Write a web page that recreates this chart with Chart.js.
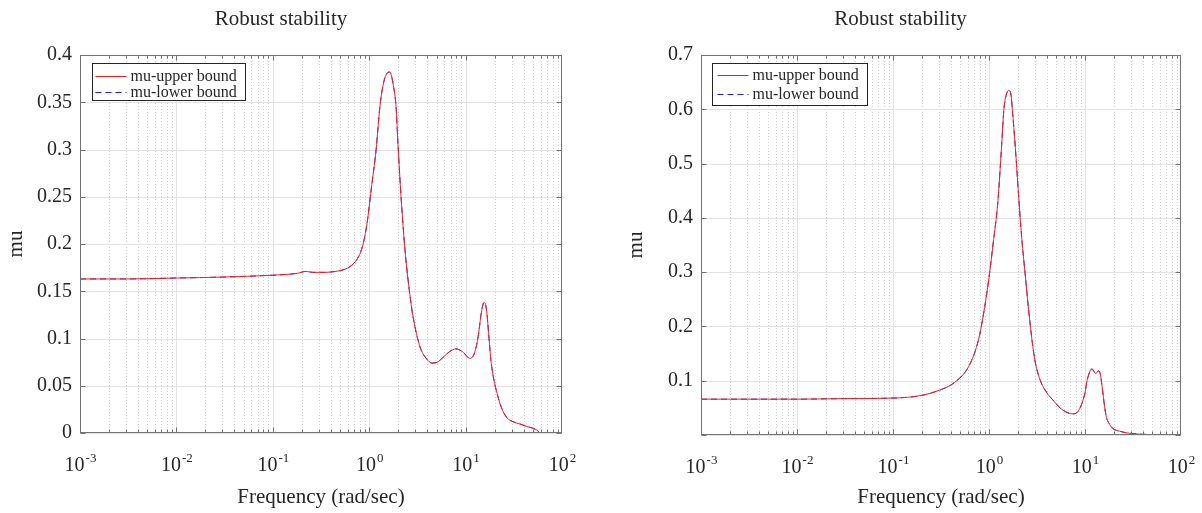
<!DOCTYPE html>
<html>
<head>
<meta charset="utf-8">
<script src="https://cdn.jsdelivr.net/npm/chart.js@4.4.1/dist/chart.umd.min.js"></script>
<style>
  html, body { margin: 0; padding: 0; background: #fff; }
  #wrap { position: relative; width: 1202px; height: 513px; }
  .panel { position: absolute; top: 0; width: 601px; height: 513px; }
</style>
</head>
<body>
<div id="wrap">
  <div class="panel" style="left:0"><canvas id="chartLeft" width="601" height="513"></canvas></div>
  <div class="panel" style="left:601px"><canvas id="chartRight" width="601" height="513"></canvas></div>
</div>
<script>
// ---- data (frequency in rad/sec, mu bounds) ----
const leftFreq = [0.001, 0.003, 0.01, 0.03, 0.1, 0.18, 0.22, 0.26, 0.35, 0.45, 0.55, 0.65, 0.75, 0.85, 0.95,
  1.05, 1.18, 1.29, 1.42, 1.52, 1.6, 1.68, 1.78, 1.9, 1.99, 2.14, 2.35, 2.6, 2.85, 3.37, 3.9, 4.48, 5.1, 5.83,
  6.8, 7.95, 9.3, 11.1, 12.4, 13.5, 14.6, 15.5, 16.1, 16.7, 17.5, 18.3, 19.6, 21.2, 23.5, 26.9, 31, 36.6, 43,
  50, 55, 57.7];
const leftUpper = [0.163, 0.163, 0.164, 0.165, 0.167, 0.169, 0.171, 0.170, 0.170, 0.171, 0.173, 0.177, 0.184,
  0.197, 0.222, 0.258, 0.300, 0.345, 0.372, 0.380, 0.382, 0.380, 0.368, 0.345, 0.305, 0.250, 0.194, 0.152,
  0.123, 0.091, 0.079, 0.074, 0.075, 0.080, 0.086, 0.089, 0.086, 0.079, 0.085, 0.102, 0.128, 0.138, 0.136,
  0.125, 0.100, 0.077, 0.057, 0.042, 0.027, 0.016, 0.012, 0.0095, 0.007, 0.005, 0.003, 0.001];
const leftLower = [0.163, 0.163, 0.164, 0.165, 0.167, 0.169, 0.171, 0.170, 0.170, 0.171, 0.173, 0.177, 0.184,
  0.197, 0.222, 0.258, 0.300, 0.345, 0.372, 0.380, 0.382, 0.380, 0.368, 0.345, 0.305, 0.250, 0.194, 0.152,
  0.123, 0.091, 0.079, 0.074, 0.075, 0.080, 0.086, 0.089, 0.086, 0.079, 0.085, 0.102, 0.128, 0.138, 0.136,
  0.125, 0.100, 0.077, 0.057, 0.042, 0.027, 0.016, 0.012, 0.0095, 0.007, 0.005, 0.003, 0.001];

const rightFreq = [0.001, 0.003, 0.01, 0.03, 0.1, 0.2, 0.31, 0.4, 0.475, 0.56, 0.63, 0.72, 0.8, 0.9, 1.0, 1.1,
  1.24, 1.35, 1.43, 1.52, 1.61, 1.70, 1.75, 1.88, 2.05, 2.2, 2.37, 2.66, 2.99, 3.4, 4.0, 4.6, 5.5, 6.6, 7.5,
  8.2, 9.0, 10.0, 10.5, 11.2, 11.8, 12.4, 13.0, 13.7, 14.3, 14.8, 15.8, 16.6, 18, 19.5, 23, 27, 37, 50, 60];
const rightUpper = [0.066, 0.066, 0.066, 0.067, 0.068, 0.073, 0.083, 0.092, 0.102, 0.115, 0.13, 0.155, 0.185,
  0.235, 0.29, 0.35, 0.432, 0.53, 0.60, 0.628, 0.635, 0.625, 0.60, 0.53, 0.432, 0.36, 0.30, 0.21, 0.14, 0.102,
  0.078, 0.065, 0.05, 0.041, 0.039, 0.041, 0.052, 0.078, 0.10, 0.116, 0.122, 0.117, 0.113, 0.118, 0.115, 0.10,
  0.06, 0.035, 0.02, 0.012, 0.007, 0.004, 0.0015, 0.0008, 0.0003];
const rightLower = [0.066, 0.066, 0.066, 0.067, 0.068, 0.073, 0.083, 0.092, 0.102, 0.115, 0.13, 0.155, 0.185,
  0.235, 0.29, 0.35, 0.432, 0.53, 0.60, 0.628, 0.635, 0.625, 0.60, 0.53, 0.432, 0.36, 0.30, 0.21, 0.14, 0.102,
  0.078, 0.065, 0.05, 0.041, 0.039, 0.041, 0.052, 0.078, 0.10, 0.116, 0.122, 0.117, 0.113, 0.118, 0.115, 0.10,
  0.06, 0.035, 0.02, 0.012, 0.007, 0.004, 0.0015, 0.0008, 0.0003];

const decadeExps = [-3, -2, -1, 0, 1, 2];
const seriesLabels = ['mu-upper bound', 'mu-lower bound'];
const titleText = 'Robust stability';
const xTitle = 'Frequency (rad/sec)';
const yTitle = 'mu';

const SERIF = '"Liberation Serif", "Times New Roman", serif';
const TEXT = '#262626';
const FRAME = '#737373';

function seg(ctx, x1, y1, x2, y2) {
  ctx.beginPath(); ctx.moveTo(x1, y1); ctx.lineTo(x2, y2); ctx.stroke();
}

// grid, inward ticks, box, decade labels and in-axes legend in the MATLAB look
const matlabAxes = {
  id: 'matlabAxes',
  beforeDatasetsDraw(chart) {
    const { ctx, chartArea: a, scales: { x, y } } = chart;
    ctx.save();
    ctx.lineWidth = 1;
    for (let d = -3; d < 2; d++) {
      for (let k = 1; k <= 9; k++) {
        const px = Math.round(x.getPixelForValue(k * Math.pow(10, d))) + 0.5;
        if (k === 1) { ctx.setLineDash([]); ctx.strokeStyle = '#e3e3e3'; }
        else { ctx.setLineDash([1, 2]); ctx.strokeStyle = '#d2d2d2'; }
        seg(ctx, px, a.top, px, a.bottom);
      }
    }
    ctx.setLineDash([]);
    ctx.strokeStyle = '#e3e3e3';
    y.ticks.forEach(t => {
      const py = Math.round(y.getPixelForValue(t.value)) + 0.5;
      seg(ctx, a.left, py, a.right, py);
    });
    ctx.restore();
  },
  afterDatasetsDraw(chart, args, opts) {
    const { ctx, chartArea: a, scales: { x, y } } = chart;
    const L = Math.round(a.left) + 0.5, R = Math.round(a.right) - 0.5;
    const T = Math.round(a.top) + 0.5, B = Math.round(a.bottom) - 0.5;
    ctx.save();
    ctx.lineWidth = 1;
    ctx.strokeStyle = FRAME;
    ctx.strokeRect(L, T, R - L, B - T);

    // x ticks on bottom and top
    for (let d = -3; d < 2; d++) {
      for (let k = 1; k <= 9; k++) {
        const px = Math.round(x.getPixelForValue(k * Math.pow(10, d))) + 0.5;
        const len = k === 1 ? 5 : 3;
        seg(ctx, px, B, px, B - len);
        seg(ctx, px, T, px, T + len);
      }
    }
    // y ticks on left and right
    y.ticks.forEach(t => {
      const py = Math.round(y.getPixelForValue(t.value)) + 0.5;
      seg(ctx, L, py, L + 5, py);
      seg(ctx, R, py, R - 5, py);
    });

    // decade labels 10^n
    ctx.fillStyle = TEXT;
    ctx.textBaseline = 'alphabetic';
    ctx.textAlign = 'left';
    decadeExps.forEach(e => {
      const px = x.getPixelForValue(Math.pow(10, e));
      const base = '10', sup = String(e);
      ctx.font = '20px ' + SERIF;
      const wb = ctx.measureText(base).width;
      ctx.font = '13px ' + SERIF;
      const ws = ctx.measureText(sup).width;
      const x0 = px - (wb + ws) / 2;
      ctx.font = '20px ' + SERIF;
      ctx.fillText(base, x0, a.bottom + 38);
      ctx.font = '13px ' + SERIF;
      ctx.fillText(sup, x0 + wb + 1, a.bottom + 29);
    });

    // legend inside the axes
    const lg = opts.legend;
    const bx = Math.round(a.left + lg.dx) + 0.5, by = Math.round(a.top + lg.dy) + 0.5;
    ctx.fillStyle = '#fff';
    ctx.fillRect(bx, by, lg.w, lg.h);
    ctx.strokeStyle = '#262626';
    ctx.strokeRect(bx, by, lg.w, lg.h);
    ctx.font = '16px ' + SERIF;
    ctx.textBaseline = 'middle';
    chart.data.datasets.forEach((ds, i) => {
      const ry = Math.round(by + lg.rows[i]) + 0.5;
      ctx.strokeStyle = ds.borderColor;
      ctx.setLineDash(ds.borderDash || []);
      seg(ctx, bx + lg.lineStart, ry, bx + lg.lineStart + lg.lineLen, ry);
      ctx.setLineDash([]);
      ctx.fillStyle = TEXT;
      ctx.fillText(ds.label, bx + lg.textStart, ry);
    });
    ctx.restore();
  }
};

function makeChart(id, freq, upper, lower, yMax, yStep, layout, legend) {
  const pts = arr => freq.map((f, i) => ({ x: f, y: arr[i] }));
  return new Chart(document.getElementById(id), {
    type: 'line',
    data: {
      datasets: [
        { label: seriesLabels[0], data: pts(upper), borderColor: '#ff1a1a', borderWidth: 1,
          pointRadius: 0, cubicInterpolationMode: 'monotone' },
        { label: seriesLabels[1], data: pts(lower), borderColor: '#1a1aff', borderWidth: 1,
          borderDash: [6, 4], pointRadius: 0, cubicInterpolationMode: 'monotone' }
      ]
    },
    options: {
      responsive: false,
      animation: false,
      devicePixelRatio: 1,
      layout: { padding: layout.padding },
      plugins: {
        legend: { display: false },
        tooltip: { enabled: false },
        title: {
          display: true, text: titleText, color: TEXT,
          font: { family: SERIF, size: 21, weight: 'normal' },
          padding: { top: 7, bottom: 22.8 }
        },
        matlabAxes: { legend: legend }
      },
      scales: {
        x: {
          type: 'logarithmic', min: 0.001, max: 100,
          grid: { display: false, drawTicks: false },
          border: { display: false },
          ticks: { display: false },
          title: { display: true, text: xTitle, color: TEXT,
                   font: { family: SERIF, size: 21 }, padding: { top: 0, bottom: 3 } },
          afterFit: s => { s.height = layout.xHeight; }
        },
        y: {
          min: 0, max: yMax,
          grid: { display: false, drawTicks: false },
          border: { display: false },
          ticks: {
            stepSize: yStep, padding: 8, color: TEXT,
            font: { family: SERIF, size: 20 },
            callback: v => (layout.hideZero && v === 0) ? '' : String(Number(v.toFixed(2)))
          },
          title: { display: true, text: yTitle, color: TEXT,
                   font: { family: SERIF, size: 21 }, padding: { top: 4, bottom: 0 } },
          afterFit: s => { s.width = layout.yWidth; }
        }
      }
    },
    plugins: [matlabAxes]
  });
}

makeChart('chartLeft', leftFreq, leftUpper, leftLower, 0.4, 0.05,
  { padding: { left: 0, right: 39, top: 0, bottom: 0 }, xHeight: 80, yWidth: 80, hideZero: false },
  { dx: 12, dy: 8, w: 153, h: 37, rows: [12, 28], lineStart: 3, lineLen: 31, textStart: 38 });

makeChart('chartRight', rightFreq, rightUpper, rightLower, 0.7, 0.1,
  { padding: { left: 19, right: 21, top: 0, bottom: 0 }, xHeight: 78, yWidth: 81, hideZero: true },
  { dx: 11, dy: 8, w: 155, h: 42, rows: [11, 30], lineStart: 5, lineLen: 31, textStart: 40 });
</script>
</body>
</html>
